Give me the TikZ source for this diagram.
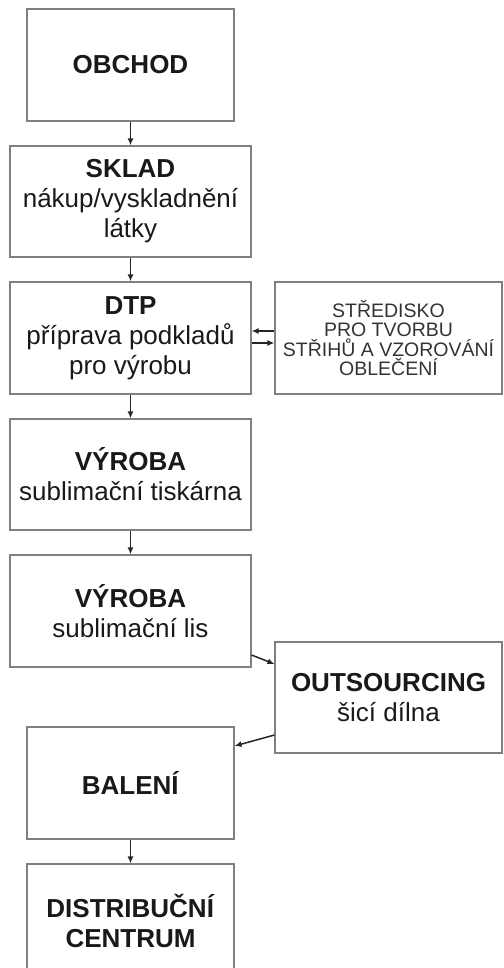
\documentclass[tikz,border=0pt]{standalone}
\usepackage{fontspec}
\setmainfont{Liberation Sans}
\usetikzlibrary{arrows.meta}
\newcommand{\bigtxt}{\fontsize{26}{30}\selectfont}
\newcommand{\smalltxt}{\fontsize{19.5}{19.5}\selectfont}
\tikzset{
	box/.style={draw=black!50, line width=1.1pt, align=center, inner sep=0pt, font=\bigtxt, text=black!90},
	sidebox/.style={box, font=\smalltxt, text=black!80},
	arr/.style={line width=1.5pt, black!85, -{Latex[length=7pt,width=6pt]}}
}

\begin{document}
\begin{tikzpicture}[x=1pt, y=-1pt]
			%%%%% START %%%%%
			
			\useasboundingbox (0, 0) rectangle (503, 968);
			\clip (0, 0) rectangle (503, 968);
			
			\node[box, minimum width=207pt, minimum height=112pt] (obchod) at (130.5, 65) {\textbf{OBCHOD}};
			\node[box, minimum width=241pt, minimum height=111pt] (sklad) at (130.5, 201.5) {\textbf{SKLAD}\\nákup/vyskladnění\\látky};
			\node[box, minimum width=241pt, minimum height=112pt] (dtp) at (130.5, 338) {\textbf{DTP}\\příprava podkladů\\pro výrobu};
			\node[sidebox, minimum width=227pt, minimum height=112pt] (stredisko) at (388.5, 338) {STŘEDISKO\\PRO TVORBU\\STŘIHŮ A VZOROVÁNÍ\\OBLEČENÍ};
			\node[box, minimum width=241pt, minimum height=111pt] (tiskarna) at (130.5, 474.5) {\textbf{VÝROBA}\\sublimační tiskárna};
			\node[box, minimum width=241pt, minimum height=112pt] (lis) at (130.5, 611) {\textbf{VÝROBA}\\sublimační lis};
			\node[box, minimum width=227pt, minimum height=111pt] (outsourcing) at (388.5, 697.5) {\textbf{OUTSOURCING}\\šicí dílna};
			\node[box, minimum width=207pt, minimum height=112pt] (baleni) at (130.5, 783) {\textbf{BALENÍ}};
			\node[box, minimum width=207pt, minimum height=114pt] (centrum) at (130.5, 921) {\textbf{DISTRIBUČNÍ}\\\textbf{CENTRUM}};
			
			\draw[arr] (obchod.south) -- (sklad.north);
			\draw[arr] (sklad.south) -- (dtp.north);
			\draw[arr] ([yshift=7pt]stredisko.west) -- ([yshift=7pt]dtp.east);
			\draw[arr] ([yshift=-5pt]dtp.east) -- ([yshift=-5pt]stredisko.west);
			\draw[arr] (dtp.south) -- (tiskarna.north);
			\draw[arr] (tiskarna.south) -- (lis.north);
			\draw[arr] ([yshift=-44pt]lis.east) -- ([yshift=33.5pt]outsourcing.west);
			\draw[arr] ([yshift=-37.5pt]outsourcing.west) -- ([yshift=37pt]baleni.east);
			\draw[arr] (baleni.south) -- (centrum.north);
			
			%%%%% END %%%%%
		\end{tikzpicture}
\end{document}
